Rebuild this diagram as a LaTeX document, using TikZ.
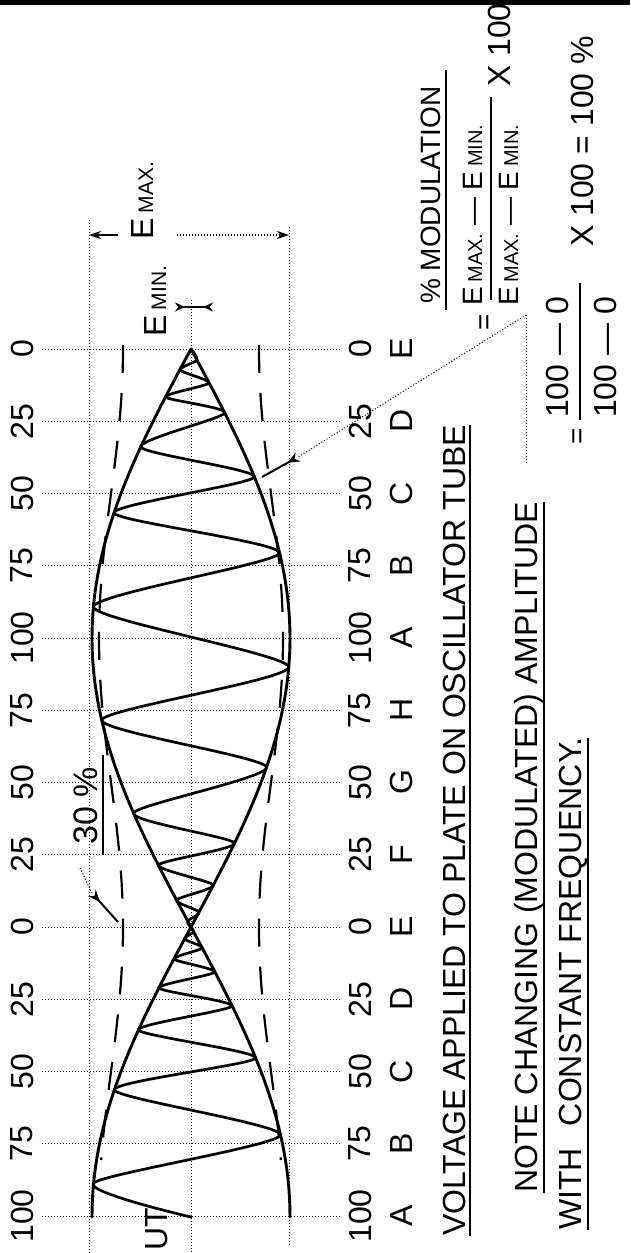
\documentclass[tikz,border=0pt]{standalone}
\usepackage{fontspec}
\setmainfont{Liberation Sans}
\usetikzlibrary{arrows.meta}

\begin{document}
\begin{tikzpicture}[x=1pt, y=-1pt,
    grid/.style={line width=0.9pt, dash pattern=on 1.2pt off 1.8pt},
    env/.style={line width=2.9pt, line cap=round},
    wave/.style={line width=2.7pt, line join=round, line cap=round},
    lvl/.style={line width=2.2pt, dash pattern=on 28pt off 20pt},
    lead/.style={line width=1pt, dash pattern=on 1pt off 2pt},
    uline/.style={line width=1.5pt},
    rtext/.style={rotate=90, inner sep=0pt, font=\fontsize{32}{32}\selectfont},
    ftext/.style={rotate=90, inner sep=0pt, font=\fontsize{28}{28}\selectfont},
    tip/.style={line width=1.3pt, -{Stealth[length=12pt,width=8pt]}},
    backtip/.style={line width=2pt, {Stealth[reversed,length=12pt,width=10pt]}-}]
    \useasboundingbox (0,0) rectangle (630,1253);

    % top edge
    \draw[line width=5pt] (0,2.5) -- (630,2.5);

    % grid and scale labels
    \draw[grid] (89,220) -- (89,1253);
    \draw[grid] (191,300) -- (191,1253);
    \draw[grid] (289,227) -- (289,1245);
    \foreach \v/\l [count=\k from 0] in {0/E,25/D,50/C,75/B,100/A,75/H,50/G,25/F,0/E,25/D,50/C,75/B,100/A} {
        \draw[grid] (42,{349+72.25*\k}) -- (340,{349+72.25*\k});
        \node[rtext] (vl\k) at (22,{349+72.25*\k}) {\v};
        \node[rtext] (vr\k) at (360,{349+72.25*\k}) {\v};
        \node[rtext] (ltr\k) at (401,{349+72.25*\k}) {\l};
    }

    % 30% level lines
    \draw[lvl] plot[domain=345:1160, samples=60, variable=\t] ({191-80-12*cos(0.62284*(\t-638))}, \t);
    \draw[lvl] plot[domain=345:1160, samples=60, variable=\t] ({191+80+12*cos(0.62284*(\t-638))}, \t);

    % envelope
    \draw[env] plot[domain=349:1217, samples=90, variable=\t] ({191+99*cos(0.31142*(\t-638))}, \t);
    \draw[env] plot[domain=349:1217, samples=90, variable=\t] ({191-99*cos(0.31142*(\t-638))}, \t);

    % carrier
    \draw[wave] plot[smooth, tension=0.4] coordinates {
        (191,349) (197,360) (180,370) (209,383) (165.5,397) (224.8,413)
        (140.7,447) (254.5,477) (114,513) (279.6,553) (93.4,607) (288.8,667)
        (101.7,720) (266.6,767) (133.5,813) (234.7,843) (158.3,865) (213.4,885)
        (176.5,900) (199.1,912) (187.8,921) (191,928) (193.7,932) (184.5,939)
        (202.3,948) (173.9,959) (214.9,972) (158.8,988) (232.2,1006) (138.4,1030)
        (255.7,1058) (114.2,1090) (280.6,1135) (93.6,1183) (191,1217)};

    % E max and E min
    \coordinate (maxl) at (89,235);
    \coordinate (maxa) at (118,235);
    \coordinate (maxb) at (177,235);
    \coordinate (maxr) at (289,235);
    \draw[tip] (maxa) -- (maxl);
    \draw[lead, tip] (maxb) -- (maxr);
    \node[rtext, anchor=base west] (emax) at (153,240) {E\,{\fontsize{21}{21}\selectfont MAX.}};
    \coordinate (mina) at (175,307);
    \coordinate (minb) at (213,307);
    \draw[line width=1.3pt, {Stealth[reversed,length=10pt,width=9pt]}-{Stealth[reversed,length=10pt,width=9pt]}] (mina) -- (minb);
    \node[rtext, anchor=base west] (emin) at (166,337) {E\,{\fontsize{21}{21}\selectfont MIN.}};

    % 30 %
    \node[rtext, font=\fontsize{34}{34}\selectfont, anchor=base west] (pct) at (97,845) {30 \%};
    \draw[uline] (103,855) -- (103,755);
    \coordinate (pcta) at (80,868);
    \coordinate (pctb) at (92,893);
    \coordinate (pctc) at (118,922);
    \draw[lead] (pcta) -- (pctb);
    \draw[backtip] (pctb) -- (pctc);

    % captions
    \node[rtext, anchor=base west] (volt) at (465,1236) {VOLTAGE APPLIED TO PLATE ON OSCILLATOR TUBE};
    \draw[uline] ([xshift=5pt]volt.base west) -- ([xshift=5pt]volt.base east);
    \node[rtext, anchor=base west] (note) at (537,1193) {NOTE CHANGING (MODULATED) AMPLITUDE};
    \draw[uline] ([xshift=7pt]note.base west) -- ([xshift=7pt]note.base east);
    \node[rtext, anchor=base west] (with) at (581,1230) {WITH\hspace{22pt}CONSTANT FREQUENCY.};
    \draw[uline] ([xshift=7pt]with.base west) -- ([xshift=7pt]with.base east);
    \node[rtext, anchor=base east] (outp) at (167,1208) {UT};

    % formula
    \node[ftext, anchor=base west] (modn) at (440,304) {\% MODULATION};
    \draw[uline] (446,310) -- (446,70);
    \node[ftext] (eqa) at (487,322) {=};
    \node[ftext, anchor=base west] (numa) at (482,306) {E\,{\fontsize{20}{20}\selectfont MAX.} — E\,{\fontsize{20}{20}\selectfont MIN.}};
    \draw[uline] (491,300) -- (491,97);
    \node[ftext, anchor=base west] (dena) at (518,306) {E\,{\fontsize{20}{20}\selectfont MAX.} — E\,{\fontsize{20}{20}\selectfont MIN.}};
    \node[rtext, anchor=base west] (xa) at (510,87) {X 100};
    \node[ftext] (eqb) at (580,436) {=};
    \node[rtext, anchor=base west] (numb) at (568,418) {100 — 0};
    \draw[uline] (580,420) -- (580,283);
    \node[rtext, anchor=base west] (denb) at (616,418) {100 — 0};
    \node[rtext, anchor=base west] (res) at (593,247) {X 100 = 100 \%};

    % leader to envelope
    \coordinate (lda) at (526,315);
    \coordinate (ldb) at (526,463);
    \coordinate (ldc) at (298,457);
    \coordinate (ldd) at (262,477);
    \draw[lead] (lda) -- (ldb);
    \draw[lead] (lda) -- (ldc);
    \draw[backtip] (ldc) -- (ldd);

\end{tikzpicture}
\end{document}
